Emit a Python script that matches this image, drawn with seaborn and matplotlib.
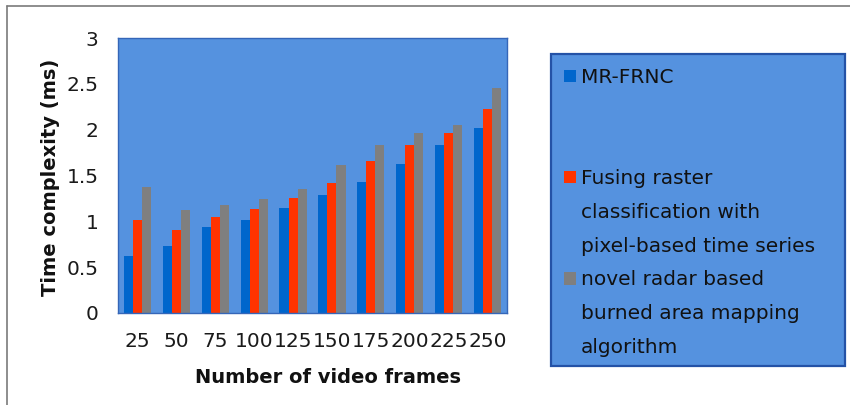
import matplotlib
matplotlib.use("Agg")
import matplotlib.pyplot as plt
from matplotlib.patches import Patch, Rectangle
from matplotlib.lines import Line2D
import pandas as pd
import seaborn as sns

# Number of video frames (x categories)
frames = ["25", "50", "75", "100", "125", "150", "175", "200", "225", "250"]

# Time complexity (ms) per method
mr_frnc = [0.62, 0.73, 0.94, 1.02, 1.15, 1.29, 1.43, 1.63, 1.83, 2.02]
fusing_raster = [1.02, 0.91, 1.05, 1.13, 1.26, 1.42, 1.66, 1.83, 1.96, 2.23]
radar_burned = [1.37, 1.12, 1.18, 1.24, 1.35, 1.61, 1.83, 1.96, 2.05, 2.45]

methods = [
    "MR-FRNC",
    "Fusing raster classification with pixel-based time series",
    "novel radar based burned area mapping algorithm",
]
# legend rows, wrapped the way the key box shows them
legend_rows = [
    ["MR-FRNC", "", ""],
    ["Fusing raster", "classification with", "pixel-based time series"],
    ["novel radar based", "burned area mapping", "algorithm"],
]
colors = ["#0066CC", "#FF3300", "#7F7F7F"]

y_ticks = [0, 0.5, 1, 1.5, 2, 2.5, 3]
y_tick_labels = ["0", "0.5", "1", "1.5", "2", "2.5", "3"]

df = pd.DataFrame({
    "frames": frames * 3,
    "time": mr_frnc + fusing_raster + radar_burned,
    "method": [methods[0]] * len(frames) + [methods[1]] * len(frames) + [methods[2]] * len(frames),
})

sns.set_theme(style="white")
plt.rcParams["font.family"] = ["DejaVu Sans"]

bg = "#5592DF"
fig = plt.figure(figsize=(8.5, 4.05), dpi=100)
ax = fig.add_axes([118 / 850, 1 - 313 / 405, (507 - 118) / 850, (313 - 38) / 405])
ax.set_facecolor(bg)

sns.barplot(
    data=df, x="frames", y="time", hue="method", order=frames,
    hue_order=methods, palette=colors, width=0.7, gap=0,
    linewidth=0, saturation=1, legend=False, ax=ax,
)

ax.set_ylim(0, 3)
ax.set_yticks(y_ticks)
ax.set_yticklabels(y_tick_labels)
ax.tick_params(axis="both", length=0, labelsize=14.5, colors="#1A1A1A")
ax.tick_params(axis="y", pad=14)
ax.tick_params(axis="x", pad=14)
for s in ax.spines.values():
    s.set_visible(True)
    s.set_color("#3566B8")
    s.set_linewidth(1.0)

ax.set_xlabel("Number of video frames", fontsize=14, fontweight="bold", color="#111111")
ax.set_ylabel("Time complexity (ms)", fontsize=14, fontweight="bold", color="#111111")
ax.xaxis.set_label_coords(0.54, -0.20)
ax.yaxis.set_label_coords(-0.15, 0.495)

# key box
fig.patches.append(Rectangle((551 / 850, 1 - 366 / 405), (845 - 551) / 850, (366 - 54) / 405,
                             transform=fig.transFigure, facecolor=bg,
                             edgecolor="#2452A6", linewidth=1.6, zorder=0))

handles, labels = [], []
for color, rows in zip(colors, legend_rows):
    for i, text in enumerate(rows):
        if i == 0:
            handles.append(Patch(facecolor=color, edgecolor="none"))
        else:
            handles.append(Patch(facecolor="none", edgecolor="none"))
        labels.append(text)

fig.legend(handles, labels, loc="upper left", bbox_to_anchor=(564 / 850, 1 - 68 / 405),
           frameon=False, fontsize=14.5, handlelength=0.6, handleheight=0.6,
           handletextpad=0.25, labelspacing=0.73, borderaxespad=0, borderpad=0,
           labelcolor="#111111")

# outer frame of the figure
fig.add_artist(Line2D([7 / 850, 7 / 850], [0, 1 - 6 / 405], transform=fig.transFigure,
                      color="#7A7A7A", linewidth=1.2))
fig.add_artist(Line2D([7 / 850, 1], [1 - 6 / 405, 1 - 6 / 405], transform=fig.transFigure,
                      color="#7A7A7A", linewidth=1.2))

fig.savefig("out.png", dpi=100, facecolor="white")
